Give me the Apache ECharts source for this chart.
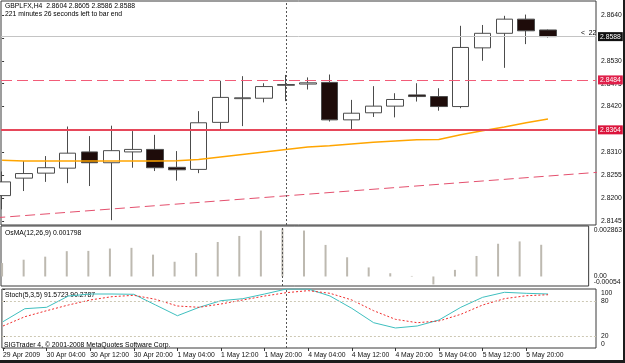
<!DOCTYPE html>
<html>
<head>
<meta charset="utf-8">
<script src="https://cdn.jsdelivr.net/npm/echarts@6/dist/echarts.min.js"></script>
<style>
  html, body { margin: 0; padding: 0; background: #fff; }
  #chart { width: 625px; height: 363px; }
</style>
</head>
<body>
<div id="chart"></div>
<script>
const symbol = 'GBPLFX,H4'
const timeLeft = '221 minutes 26 seconds left to bar end'
const copyright = 'SIGTrader 4, \u00a9 2001-2008 MetaQuotes Software Corp.'

// H4 bars, 29 Apr 20:00 .. 6 May 00:00
const opens  = [2.8206, 2.8248, 2.8260, 2.8272, 2.8311, 2.8285, 2.8311, 2.8317, 2.8274, 2.8269, 2.8382, 2.8439, 2.8440, 2.8471, 2.8474, 2.8478, 2.8388, 2.8405, 2.8421, 2.8448, 2.8444, 2.8420, 2.8561, 2.8596, 2.8630, 2.8604]
const closes = [2.8239, 2.8259, 2.8273, 2.8308, 2.8285, 2.8314, 2.8317, 2.8273, 2.8268, 2.8381, 2.8442, 2.8441, 2.8468, 2.8473, 2.8477, 2.8388, 2.8404, 2.8421, 2.8437, 2.8444, 2.8420, 2.8562, 2.8596, 2.8630, 2.8602, 2.8588]
const lows   = [2.8173, 2.8217, 2.8239, 2.8236, 2.8229, 2.8147, 2.8273, 2.8265, 2.8242, 2.8260, 2.8365, 2.8373, 2.8430, 2.8433, 2.8461, 2.8384, 2.8362, 2.8395, 2.8394, 2.8432, 2.8410, 2.8416, 2.8530, 2.8513, 2.8570, 2.8586]
const highs  = [2.8264, 2.8289, 2.8301, 2.8372, 2.8349, 2.8374, 2.8361, 2.8352, 2.8313, 2.8409, 2.8482, 2.8493, 2.8476, 2.8496, 2.8490, 2.8497, 2.8436, 2.8469, 2.8452, 2.8476, 2.8464, 2.8614, 2.8616, 2.8638, 2.8641, 2.8605]

// moving average (orange)
const ma = [2.8291, 2.8289, 2.8289, 2.8289, 2.8289, 2.8289, 2.8289, 2.8289, 2.8290, 2.8293, 2.8299, 2.8305, 2.8311, 2.8317, 2.8323, 2.8326, 2.8330, 2.8334, 2.8337, 2.8340, 2.8341, 2.8352, 2.8362, 2.8371, 2.8381, 2.8390]

// OsMA(12,26,9)
const osma = [0.000761, 0.000951, 0.001124, 0.001435, 0.001452, 0.001585, 0.001625, 0.001239, 0.000836, 0.001337, 0.001954, 0.002299, 0.002605, 0.002720, 0.002605, 0.001790, 0.001089, 0.000513, 0.000184, 0.000030, -0.000450, 0.000375, 0.001164, 0.001856, 0.001988, 0.001798]

// Stoch(5,3,5)
const stochMain   = [44.6, 66.6, 69.0, 88.1, 91.5, 91.5, 91.0, 72.9, 54.7, 69.0, 80.2, 83.6, 91.5, 100, 100, 88.1, 67.2, 42.9, 33.9, 37.3, 47.5, 69.0, 85.9, 94.4, 92.7, 91.5723]
const stochSignal = [37.3, 53.0, 63.2, 72.9, 81.4, 87.0, 89.3, 82.5, 71.2, 69.0, 74.6, 81.4, 88.1, 93.8, 97.2, 92.7, 81.4, 63.2, 48.6, 42.9, 45.8, 57.1, 72.9, 83.6, 88.6, 90.2787]
const stochLevels = [20, 80]

// chart objects
const dashedLevel = 2.8484
const solidLevel = 2.8364
const trendFrom = [0, 2.8154]
const trendTo = [25, 2.8253]
const weekStartBar = 13

// axes
const tickBars = [0, 2, 4, 6, 8, 10, 12, 14, 16, 18, 20, 22, 24]
const tickLabels = ['29 Apr 2009', '30 Apr 04:00', '30 Apr 12:00', '30 Apr 20:00', '1 May 04:00', '1 May 12:00', '1 May 20:00', '4 May 04:00', '4 May 12:00', '4 May 20:00', '5 May 04:00', '5 May 12:00', '5 May 20:00']
const priceTicks = [2.8145, 2.8200, 2.8255, 2.8310, 2.8365, 2.8420, 2.8475, 2.8530, 2.8585, 2.8640]
const osmaMin = -0.00054
const osmaMax = 0.002863
const stochTicks = [0, 20, 80, 100]

const font = 'Liberation Sans'
const fs = 6.8
const ink = '#111'

const last = opens.length - 1
const bid = closes[last]
const candles = opens.map((o, i) => [i, o, closes[i], lows[i], highs[i]])
const pair = arr => arr.map((v, i) => [i, v])

// extend trend line as a ray past both anchors
const slope = (trendTo[1] - trendFrom[1]) / (trendTo[0] - trendFrom[0])
const trendLine = [-1, 29].map(x => [x, trendFrom[1] + slope * (x - trendFrom[0])])

const separator = { xAxis: weekStartBar, lineStyle: { color: '#555', type: [2, 2], width: 1 }, label: { show: false } }
const lvlLabel = (bg, v) => ({
    show: true, position: 'end', distance: 2, formatter: v.toFixed(4),
    backgroundColor: bg, color: '#fff', padding: [1, 2], fontSize: fs, fontFamily: font
})
const shifted = { dn: { padding: [8, 0, 0, 0] }, up: { padding: [0, 0, 8, 0] } }

const xBase = {
    type: 'value', min: -0.05, max: 27.2,
    splitLine: { show: false }, axisLine: { show: false }
}
const yBase = {
    type: 'value', position: 'right',
    splitLine: { show: false }, axisLine: { show: false }
}
const labelBase = { margin: 5, fontSize: fs, fontFamily: font, color: ink, showMinLabel: true, showMaxLabel: true }

const chart = echarts.init(document.getElementById('chart'))
chart.setOption({
    animation: false,
    backgroundColor: '#fff',
    grid: [
        { left: 1, top: 1, width: 595, height: 224 },
        { left: 1, top: 226, width: 595, height: 60 },
        { left: 1, top: 289, width: 595, height: 59 }
    ].map(g => ({ ...g, show: true, borderColor: '#3a3a3a', borderWidth: 1 })),
    xAxis: [
        { ...xBase, gridIndex: 0, axisLabel: { show: false }, axisTick: { show: false } },
        { ...xBase, gridIndex: 1, axisLabel: { show: false }, axisTick: { show: false } },
        {
            ...xBase, gridIndex: 2,
            axisTick: { show: true, length: 3, customValues: tickBars, lineStyle: { color: '#333' } },
            axisLabel: {
                customValues: tickBars, align: 'left', margin: 4,
                fontSize: fs, fontFamily: font, color: ink,
                formatter: v => tickLabels[tickBars.indexOf(v)]
            }
        }
    ],
    yAxis: [
        {
            ...yBase, gridIndex: 0, min: 2.81354, max: 2.86736,
            axisTick: { show: true, length: 2, customValues: priceTicks, lineStyle: { color: '#333' } },
            axisLabel: { ...labelBase, customValues: priceTicks, formatter: v => v.toFixed(4) }
        },
        {
            ...yBase, gridIndex: 1, min: osmaMin, max: osmaMax,
            axisTick: { show: false },
            axisLabel: {
                ...labelBase, customValues: [0, osmaMax], rich: shifted,
                formatter: v => v > 0 ? '{dn|' + v.toFixed(6) + '}' : '0.00'
            }
        },
        {
            ...yBase, gridIndex: 2, min: 0, max: 100,
            axisTick: { show: true, length: 2, customValues: stochTicks, lineStyle: { color: '#333' } },
            axisLabel: {
                ...labelBase, customValues: stochTicks, rich: shifted,
                formatter: v => v === 100 ? '{dn|100}' : v === 0 ? '{up|0}' : String(v)
            }
        },
        {
            // second scale on the OsMA pane, only for its minimum label
            ...yBase, gridIndex: 1, min: osmaMin, max: osmaMax,
            axisTick: { show: false },
            axisLabel: {
                ...labelBase, customValues: [osmaMin], rich: shifted,
                formatter: v => '{up|' + v.toFixed(5) + '}'
            }
        }
    ],
    series: [
        {
            type: 'candlestick', xAxisIndex: 0, yAxisIndex: 0,
            data: candles, barWidth: 17,
            itemStyle: {
                color: '#fff', color0: '#1e0c0a',
                borderColor: '#4c4c4c', borderColor0: '#4c4c4c', borderWidth: 1
            },
            markLine: {
                symbol: 'none', silent: true, precision: 6,
                data: [
                    { yAxis: bid, lineStyle: { color: '#c4c4c4', type: 'solid', width: 1 }, label: lvlLabel('#111', bid) },
                    { yAxis: dashedLevel, lineStyle: { color: '#f25c78', type: [11, 5], width: 1 }, label: lvlLabel('#e0204a', dashedLevel) },
                    { yAxis: solidLevel, lineStyle: { color: '#e6475a', type: 'solid', width: 2 }, label: lvlLabel('#dc143c', solidLevel) },
                    separator
                ]
            }
        },
        {
            type: 'line', xAxisIndex: 0, yAxisIndex: 0, data: pair(ma),
            symbol: 'none', lineStyle: { color: '#ffa500', width: 1.5 }
        },
        {
            type: 'line', xAxisIndex: 0, yAxisIndex: 0, data: trendLine,
            symbol: 'none', lineStyle: { color: '#e4506e', width: 1, type: [10, 5] }
        },
        {
            type: 'bar', xAxisIndex: 1, yAxisIndex: 1, data: pair(osma),
            barWidth: 2, itemStyle: { color: '#bdb9b0' },
            markLine: { symbol: 'none', silent: true, precision: 6, data: [separator] }
        },
        {
            type: 'line', xAxisIndex: 2, yAxisIndex: 2, data: pair(stochMain),
            symbol: 'none', lineStyle: { color: '#3fbfbf', width: 1 },
            markLine: {
                symbol: 'none', silent: true, precision: 6,
                data: [
                    ...stochLevels.map(v => ({ yAxis: v, lineStyle: { color: '#cdc8b4', type: [2, 2], width: 1 }, label: { show: false } })),
                    separator
                ]
            }
        },
        {
            type: 'line', xAxisIndex: 2, yAxisIndex: 2, data: pair(stochSignal),
            symbol: 'none', lineStyle: { color: '#f02c2c', width: 1, type: [2, 2] }
        }
    ],
    graphic: {
        elements: [
            { type: 'text', left: 5, top: 3, style: { text: `${symbol}  ${opens[last].toFixed(4)} ${highs[last].toFixed(4)} ${lows[last].toFixed(4)} ${bid.toFixed(4)}`, fill: '#000', fontSize: fs, fontFamily: font } },
            { type: 'text', left: 5, top: 11, style: { text: timeLeft, fill: '#000', fontSize: fs, fontFamily: font } },
            { type: 'text', left: 581, top: 30, style: { text: '<  22', fill: '#000', fontSize: fs, fontFamily: font } },
            { type: 'text', left: 5, top: 230, style: { text: `OsMA(12,26,9) ${osma[last].toFixed(6)}`, fill: '#000', fontSize: fs, fontFamily: font } },
            { type: 'text', left: 5, top: 292, style: { text: `Stoch(5,3,5) ${stochMain[last].toFixed(4)} ${stochSignal[last].toFixed(4)}`, fill: '#000', fontSize: fs, fontFamily: font } },
            { type: 'text', left: 4, top: 342, style: { text: copyright, fill: '#000', fontSize: fs, fontFamily: font } },
            { type: 'rect', right: 0, top: 0, shape: { width: 2, height: 363 }, style: { fill: '#1c1c1c' } },
            { type: 'rect', left: 0, bottom: 0, shape: { width: 625, height: 3 }, style: { fill: '#1c1c1c' } }
        ]
    }
})
</script>
</body>
</html>
